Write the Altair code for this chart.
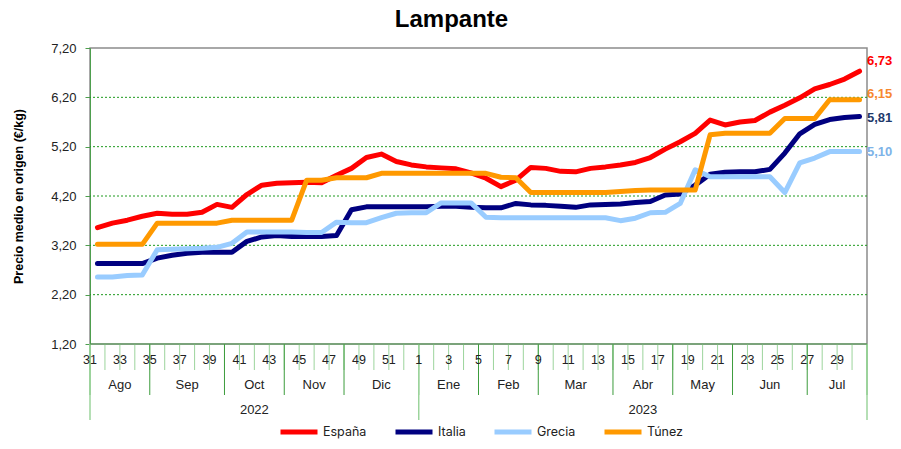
import altair as alt
import pandas as pd

# ---------------- data ----------------
series_names = ["España", "Italia", "Grecia", "Túnez"]
series_colors = ["#FF0000", "#000080", "#99CCFF", "#FF9900"]

espana = [3.56, 3.65, 3.71, 3.79, 3.85, 3.83, 3.83, 3.87, 4.03, 3.97,
          4.23, 4.42, 4.46, 4.47, 4.48, 4.47, 4.62, 4.76, 4.98, 5.05,
          4.90, 4.83, 4.79, 4.77, 4.75, 4.67, 4.56, 4.39, 4.52, 4.78,
          4.76, 4.70, 4.69, 4.76, 4.79, 4.83, 4.88, 4.98, 5.15, 5.30,
          5.47, 5.74, 5.64, 5.70, 5.73, 5.90, 6.04, 6.19, 6.37, 6.46,
          6.57, 6.73]
italia = [2.83, 2.83, 2.83, 2.83, 2.94, 3.00, 3.04, 3.06, 3.06, 3.06,
          3.28, 3.37, 3.40, 3.38, 3.38, 3.38, 3.40, 3.92, 3.98, 3.98,
          3.98, 3.98, 3.98, 3.99, 3.99, 3.97, 3.96, 3.96, 4.05, 4.02,
          4.01, 3.99, 3.97, 4.02, 4.03, 4.04, 4.07, 4.09, 4.22, 4.24,
          4.42, 4.64, 4.68, 4.69, 4.69, 4.74, 5.07, 5.46, 5.65, 5.75,
          5.79, 5.81]
grecia = [2.56, 2.56, 2.59, 2.60, 3.11, 3.12, 3.13, 3.14, 3.16, 3.24,
          3.47, 3.47, 3.47, 3.47, 3.46, 3.46, 3.67, 3.66, 3.66, 3.76,
          3.85, 3.86, 3.86, 4.06, 4.06, 4.06, 3.77, 3.76, 3.76, 3.76,
          3.76, 3.76, 3.76, 3.76, 3.76, 3.70, 3.75, 3.86, 3.87, 4.05,
          4.73, 4.59, 4.59, 4.59, 4.59, 4.59, 4.27, 4.87, 4.97, 5.10,
          5.10, 5.10]
tunez = [3.22, 3.22, 3.22, 3.22, 3.65, 3.65, 3.65, 3.65, 3.65, 3.71,
         3.71, 3.71, 3.71, 3.71, 4.52, 4.52, 4.57, 4.57, 4.57, 4.66,
         4.66, 4.66, 4.66, 4.66, 4.66, 4.66, 4.66, 4.58, 4.57, 4.27,
         4.27, 4.27, 4.27, 4.27, 4.27, 4.29, 4.31, 4.32, 4.32, 4.32,
         4.32, 5.44, 5.47, 5.47, 5.47, 5.47, 5.77, 5.77, 5.77, 6.15,
         6.15, 6.15]

weeks = list(range(31, 53)) + list(range(1, 31))        # 52 weekly categories
week_label_text = [str(w) for w in weeks[::2]]           # 31, 33, ... 29
month_names = ["Ago", "Sep", "Oct", "Nov", "Dic", "Ene", "Feb", "Mar",
               "Abr", "May", "Jun", "Jul"]
month_bounds = [0, 4, 9, 13, 17, 22, 26, 30, 35, 39, 43, 48, 52]
year_names = ["2022", "2023"]
year_bounds = [0, 22, 52]
grid_values = [2.2, 3.2, 4.2, 5.2, 6.2]
y_ticks = [1.2, 2.2, 3.2, 4.2, 5.2, 6.2, 7.2]
end_label_text = ["6,73", "5,81", "5,10", "6,15"]
end_label_colors = ["#FF0000", "#1F3A6B", "#7DB3E8", "#F7882F"]
end_label_shift = [-10, 1, 0, -6]

# ---------------- tables ----------------
rows = []
for name, vals in zip(series_names, [espana, italia, grecia, tunez]):
    for i, v in enumerate(vals):
        rows.append({"serie": name, "pos": i + 0.5, "valor": v})
df = pd.DataFrame(rows)

n = len(weeks)
last_vals = [espana[-1], italia[-1], grecia[-1], tunez[-1]]

df_weeklab = pd.DataFrame({"pos": list(range(0, n, 2)), "txt": week_label_text})
df_minor = pd.DataFrame({"pos": list(range(0, n + 1))})
df_month = pd.DataFrame({"pos": month_bounds})
df_monthlab = pd.DataFrame({
    "pos": [(a + b) / 2 for a, b in zip(month_bounds[:-1], month_bounds[1:])],
    "txt": month_names})
df_year = pd.DataFrame({"pos": year_bounds})
df_yearlab = pd.DataFrame({
    "pos": [(a + b) / 2 for a, b in zip(year_bounds[:-1], year_bounds[1:])],
    "txt": year_names})
df_grid = pd.DataFrame({"valor": grid_values})
df_base = pd.DataFrame({"valor": [y_ticks[0]]})

W, H = 777, 296
xs = alt.Scale(domain=[0, n], nice=False, zero=False)
ys = alt.Scale(domain=[1.2, 7.2], nice=False, zero=False)
GREEN = "#4E9E4E"
LIGHTGREEN = "#9CD49C"
FONT = "Liberation Sans"

y_axis = alt.Axis(values=y_ticks, grid=False, domainColor=GREEN, tickColor=GREEN,
                  tickSize=5, labelFont=FONT, labelFontSize=13, labelColor="#222222",
                  labelPadding=9,
                  labelExpr="replace(format(datum.value, '.2f'), '.', ',')",
                  titleFont=FONT, titleFontSize=12.5, titleFontWeight="bold",
                  titleColor="#000000", titlePadding=25)
Y_TITLE = "Precio medio en origen (€/kg)"


def yenc(field="valor"):
    return alt.Y(f"{field}:Q", scale=ys, axis=y_axis, title=Y_TITLE)


def xenc(field="pos"):
    return alt.X(f"{field}:Q", scale=xs, axis=None)


grid = alt.Chart(df_grid).mark_rule(color="#1E9A1E", strokeDash=[2, 2], strokeWidth=1).encode(
    y=yenc()
)
bottom_line = alt.Chart(df_base).mark_rule(color=GREEN, strokeWidth=1).encode(
    y=yenc()
)

lines = alt.Chart(df).mark_line(strokeWidth=5, strokeJoin="round", strokeCap="round").encode(
    x=xenc(),
    y=yenc(),
    color=alt.Color("serie:N", scale=alt.Scale(domain=series_names, range=series_colors),
                    legend=alt.Legend(title=None, orient="none", direction="horizontal",
                                      legendX=188, legendY=363,
                                      symbolType="stroke", symbolSize=1369,
                                      symbolStrokeWidth=5, columnPadding=18,
                                      labelOffset=3, labelFont="Inter", labelFontSize=12.5,
                                      labelColor="#222222")),
)

end_layers = []
for txt, col, sh, val in zip(end_label_text, end_label_colors, end_label_shift, last_vals):
    d = pd.DataFrame({"pos": [n], "valor": [val], "txt": [txt]})
    end_layers.append(
        alt.Chart(d).mark_text(align="left", baseline="middle", dx=0, dy=sh, color=col,
                               font=FONT, fontSize=13, fontWeight="bold").encode(
            x=xenc(), y=yenc(), text="txt:N",
        )
    )

minor_ticks = alt.Chart(df_minor).mark_rule(color=LIGHTGREEN, strokeWidth=1).encode(
    x=xenc(), y=alt.value(H), y2=alt.value(H + 26)
)
month_ticks = alt.Chart(df_month).mark_rule(color="#3C9C3C", strokeWidth=1).encode(
    x=xenc(), y=alt.value(H), y2=alt.value(H + 51)
)
year_ticks = alt.Chart(df_year).mark_rule(color=LIGHTGREEN, strokeWidth=1.5).encode(
    x=xenc(), y=alt.value(H), y2=alt.value(H + 76)
)
week_labels = alt.Chart(df_weeklab).mark_text(font=FONT, fontSize=12.5, color="#222222",
                                              baseline="middle").encode(
    x=xenc(), y=alt.value(H + 16), text="txt:N"
)
month_labels = alt.Chart(df_monthlab).mark_text(font=FONT, fontSize=13, color="#222222",
                                                baseline="middle").encode(
    x=xenc(), y=alt.value(H + 41), text="txt:N"
)
year_labels = alt.Chart(df_yearlab).mark_text(font=FONT, fontSize=13, color="#222222",
                                              baseline="middle").encode(
    x=xenc(), y=alt.value(H + 66), text="txt:N"
)

chart = alt.layer(
    grid, minor_ticks, month_ticks, year_ticks, bottom_line, lines, *end_layers,
    week_labels, month_labels, year_labels
).properties(
    width=W, height=H,
    title=alt.Title("Lampante", fontSize=24, font=FONT, fontWeight="bold",
                    color="#000000", anchor="middle", dx=-27, offset=10),
    padding={"left": 82, "top": 40, "right": 26, "bottom": 97},
    autosize=alt.AutoSizeParams(type="none"),
).configure_view(
    stroke="#8C8C8C", strokeWidth=1.5
)

chart.save("out.html", embed_options={"renderer": "svg", "actions": False})
